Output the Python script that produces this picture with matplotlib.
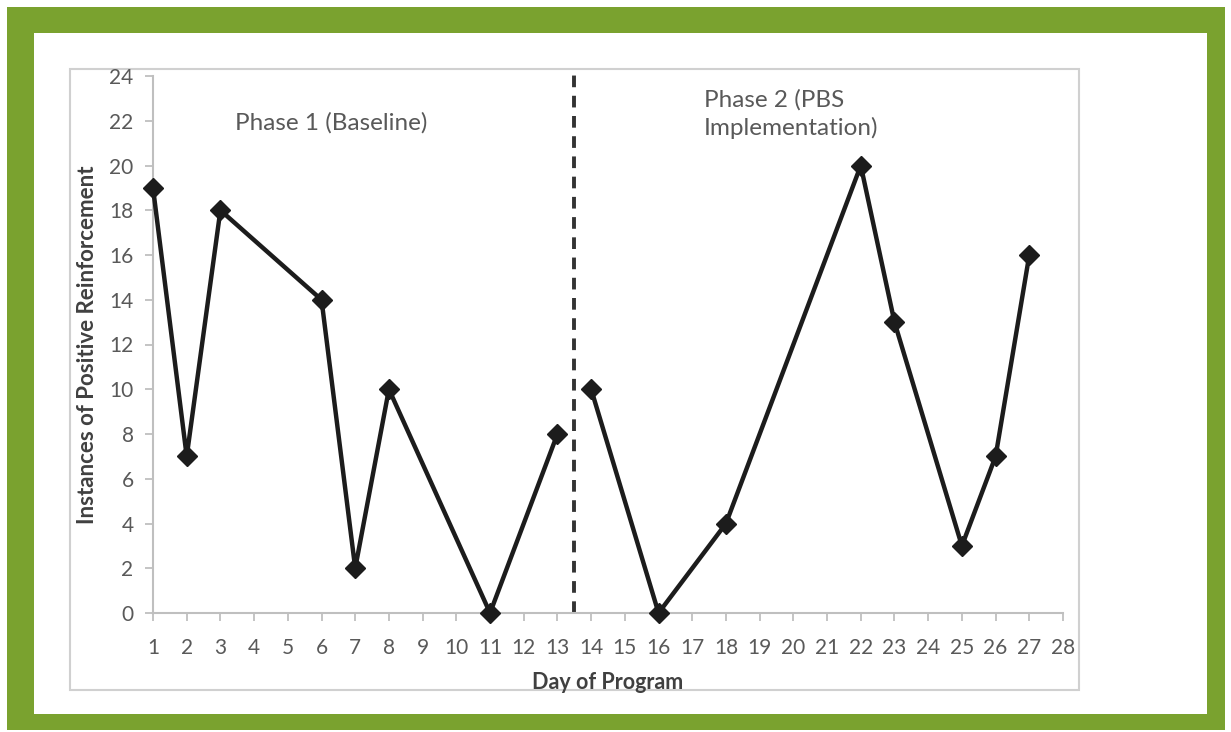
import matplotlib
matplotlib.use("Agg")
import matplotlib.pyplot as plt
from matplotlib.patches import Rectangle

# data
days_p1 = [1, 2, 3, 6, 7, 8, 11, 13]
vals_p1 = [19, 7, 18, 14, 2, 10, 0, 8]
days_p2 = [14, 16, 18, 22, 23, 25, 26, 27]
vals_p2 = [10, 0, 4, 20, 13, 3, 7, 16]
phase_split = 13.5
x_ticks = list(range(1, 29))
y_ticks = list(range(0, 25, 2))

W, H = 1231, 732
GREEN = "#7aa22f"
GREY = "#595959"
FONT = ["Lato", "DejaVu Sans"]

fig = plt.figure(figsize=(W / 100, H / 100), dpi=100)
fig.patch.set_facecolor("white")


def px_rect(x0, y0, x1, y1, **kw):
    # rectangle in pixel coords (origin top-left), drawn beneath the axes
    r = Rectangle((x0 / W, 1 - y1 / H), (x1 - x0) / W, (y1 - y0) / H,
                  transform=fig.transFigure, zorder=-5, **kw)
    fig.patches.append(r)


px_rect(7, 7, 1225, 730, facecolor=GREEN, edgecolor="none")
px_rect(34, 33, 1207, 714, facecolor="white", edgecolor="none")
px_rect(70, 69, 1079, 690, facecolor="white", edgecolor="#d0d0d0", lw=1.5)

left, right, top, bottom = 153, 1063, 76, 613
ax = fig.add_axes([left / W, 1 - bottom / H, (right - left) / W, (bottom - top) / H])
ax.set_facecolor("none")

style = dict(color="#1c1c1c", lw=3.2, marker="D", ms=10, mfc="#1c1c1c", mec="#1c1c1c")
ax.plot(days_p1, vals_p1, **style, clip_on=False, zorder=3)
ax.plot(days_p2, vals_p2, **style, clip_on=False, zorder=3)

ax.axvline(phase_split, ymin=0, ymax=1.013, color="#333333", lw=2.8,
           ls=(0, (3, 2.2)), clip_on=False)

ax.set_xlim(1, 28)
ax.set_ylim(0, 24)
ax.set_xticks(x_ticks)
ax.set_yticks(y_ticks)
for s in ["top", "right"]:
    ax.spines[s].set_visible(False)
for s in ["left", "bottom"]:
    ax.spines[s].set_color("#bfbfbf")
    ax.spines[s].set_linewidth(1.5)
ax.tick_params(axis="both", direction="out", length=6, width=1.3, color="#bfbfbf",
               labelcolor=GREY, labelsize=15)
ax.tick_params(axis="x", pad=12)
ax.tick_params(axis="y", pad=8)
for lab in ax.get_xticklabels() + ax.get_yticklabels():
    lab.set_family(FONT)

ax.set_xlabel("Day of Program", fontsize=15.5, fontweight="bold", color="#404040",
              family=FONT, labelpad=10)
ax.set_ylabel("Instances of Positive Reinforcement", fontsize=16, fontweight="bold",
              color="#404040", family=FONT, labelpad=8)

ax.text(6.3, 21.9, "Phase 1 (Baseline)", fontsize=17.5, color=GREY, family=FONT,
        ha="center", va="center")
ax.text(17.35, 22.3, "Phase 2 (PBS\nImplementation)", fontsize=17.5, color=GREY, family=FONT,
        ha="left", va="center", linespacing=1.35)

fig.savefig("out.png", dpi=100)
